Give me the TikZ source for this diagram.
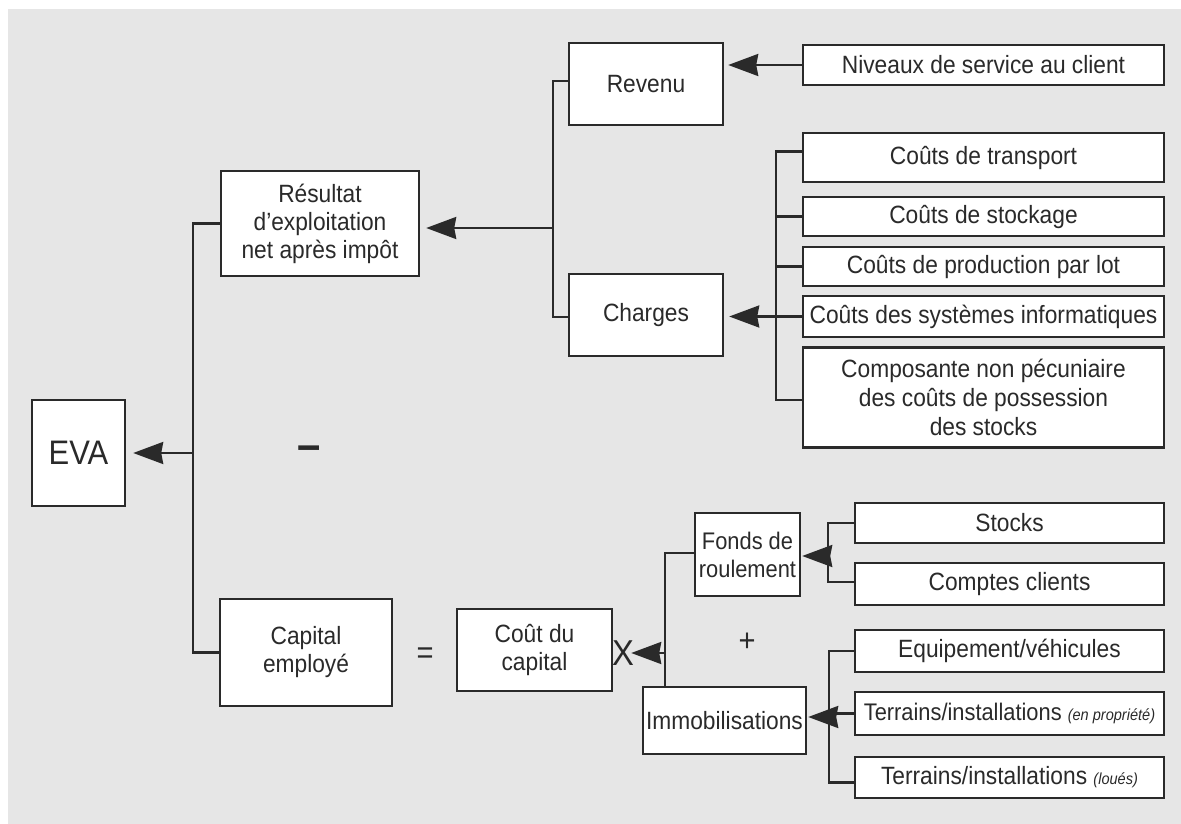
\documentclass[tikz,border=0pt]{standalone}
\usepackage{fontspec}
\setmainfont[FakeStretch=0.91]{Liberation Sans}
\usetikzlibrary{arrows.meta,calc}
\definecolor{bg}{HTML}{E6E6E6}
\definecolor{ink}{HTML}{2A2A2A}
\begin{document}
\begin{tikzpicture}[x=1pt,y=-1pt,
  box/.style={draw=ink, fill=white, line width=2.4pt, inner sep=0pt, align=center,
              font=\fontsize{25}{28}\selectfont, text=ink},
  ln/.style={draw=ink, line width=2.4pt},
  arr/.style={ln, -{Stealth[length=30pt,width=22pt,inset=2pt]}},
  sym/.style={text=ink, inner sep=0pt, font=\fontsize{32}{36}\selectfont}]
\useasboundingbox (0,0) rectangle (1181,824);
\fill[bg] (8,9) rectangle (1181,824);

% nodes
\node[box, minimum width=93pt, minimum height=106pt, font=\fontsize{34}{38}\selectfont] (eva) at (78.5,453) {EVA};
\node[box, minimum width=198pt, minimum height=105pt] (res) at (320,223.5) {Résultat\\d’exploitation\\net après impôt};
\node[box, minimum width=172pt, minimum height=107pt] (cap) at (306,652.5) {Capital\\employé};
\node[box, minimum width=154pt, minimum height=82pt] (rev) at (646,84) {Revenu};
\node[box, minimum width=154pt, minimum height=82pt] (cha) at (646,315) {Charges};
\node[box, minimum width=361pt, minimum height=40pt] (niv) at (983.5,65) {Niveaux de service au client};
\node[box, minimum width=361pt, minimum height=49pt] (tra) at (983.5,157.5) {Coûts de transport};
\node[box, minimum width=361pt, minimum height=39pt] (sto) at (983.5,216.5) {Coûts de stockage};
\node[box, minimum width=361pt, minimum height=39pt] (pro) at (983.5,266.5) {Coûts de production par lot};
\node[box, minimum width=361pt, minimum height=41pt] (sys) at (983.5,316.5) {Coûts des systèmes informatiques};
\node[box, minimum width=361pt, minimum height=100pt, font=\fontsize{25}{29}\selectfont] (com) at (983.5,397.5) {Composante non pécuniaire\\des coûts de possession\\des stocks};
\node[box, minimum width=155pt, minimum height=82pt] (cout) at (534.5,650) {Coût du\\capital};
\node[box, minimum width=105pt, minimum height=83pt, font=\fontsize{24}{28}\selectfont] (fonds) at (747.5,554.5) {Fonds de\\roulement};
\node[box, minimum width=163pt, minimum height=67pt] (immo) at (724.5,720.5) {Immobilisations};
\node[box, minimum width=309pt, minimum height=40pt] (stk) at (1009.5,523) {Stocks};
\node[box, minimum width=309pt, minimum height=42pt] (cli) at (1009.5,584) {Comptes clients};
\node[box, minimum width=309pt, minimum height=42pt] (equ) at (1009.5,651) {Equipement/véhicules};
\node[box, minimum width=309pt, minimum height=43pt, font=\fontsize{24}{28}\selectfont] (tprop) at (1009.5,713.5) {Terrains/installations {\fontsize{16}{20}\selectfont\itshape (en propriété)}};
\node[box, minimum width=309pt, minimum height=41pt] (tlou) at (1009.5,777.5) {Terrains/installations {\fontsize{16}{20}\selectfont\itshape (loués)}};

% symbols
\node[sym, font=\fontsize{46}{48}\selectfont\bfseries] (minus) at (309,453) {–};
\node[sym] (eq) at (425,656) {=};
\node[sym] (plus) at (747,642) {+};
\node[sym, font=\fontsize{36}{40}\selectfont] (times) at (623,653) {X};

% junctions
\coordinate (jL) at (193,453);
\coordinate (jR) at (553,228);
\coordinate (jC) at (776,318);
\coordinate (jF) at (828,556);
\coordinate (jI) at (829,717);
\coordinate (jK) at (665,653);

% left tree
\draw[ln] (res.west) -| (jL) |- (cap.west);
\draw[arr, shorten >=7pt] (jL) -- (eva.east |- jL);

% result tree
\draw[ln] ([yshift=3pt]rev.west) -| (jR) |- ([yshift=-2pt]cha.west);
\draw[arr, shorten >=6pt] (jR) -- (res.east |- jR);

% revenue
\draw[arr, shorten >=4pt] (niv.west) -- (rev.east |- niv.west);

% charges tree
\draw[ln] ([yshift=6pt]tra.west) -| (jC) |- ([yshift=-2.5pt]com.west);
\draw[ln] (sto.west) -- (sto.west -| jC);
\draw[ln] (pro.west) -- (pro.west -| jC);
\draw[arr, shorten >=5pt] (sys.west) -- (cha.east |- sys.west);

% fonds de roulement tree
\draw[ln] (stk.west) -| (jF) |- ([yshift=2pt]cli.west);
\draw[arr, shorten >=1pt] (jF) -- (fonds.east |- jF);

% immobilisations tree
\draw[ln] (equ.west) -| (jI) |- ([yshift=-5pt]tlou.west);
\draw[ln] (tprop.west) -- (tprop.west -| jI);
\draw[arr, shorten >=1pt] (jI) -- (immo.east |- jI);

% capital cost tree
\draw[ln] ([yshift=1.5pt]fonds.west) -| (jK) -- (immo.north -| jK);
\draw[arr, shorten >=18pt] (jK) -- (cout.east |- jK);
\end{tikzpicture}
\end{document}
